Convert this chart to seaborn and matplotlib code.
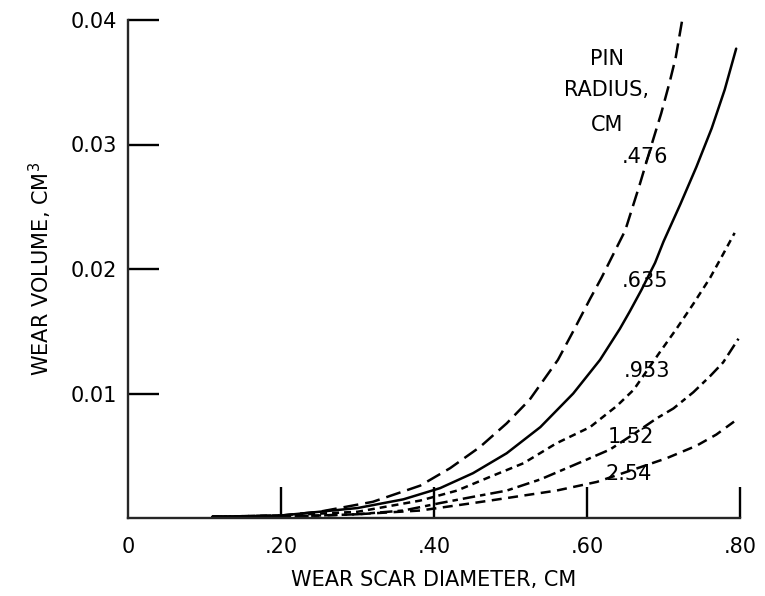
import matplotlib
matplotlib.use("Agg")
import matplotlib.pyplot as plt
import seaborn as sns
import pandas as pd

# Data
x_476 = [0.11, 0.20, 0.25, 0.32, 0.382, 0.421, 0.460, 0.495, 0.525, 0.562, 0.582, 0.604, 0.619, 0.650,
         0.669, 0.686, 0.697, 0.708, 0.716, 0.725]
y_476 = [0.0001, 0.0002, 0.0005, 0.0013, 0.0026, 0.0040, 0.0057, 0.0076, 0.0095, 0.0127, 0.0150, 0.0176, 0.0193, 0.0231,
         0.0268, 0.0303, 0.0325, 0.0350, 0.0370, 0.0402]

x_635 = [0.11, 0.20, 0.30, 0.36, 0.408, 0.451, 0.495, 0.539, 0.582, 0.617, 0.643, 0.656, 0.671,
         0.689, 0.700, 0.722, 0.743, 0.763, 0.780, 0.795]
y_635 = [0.0001, 0.0002, 0.0008, 0.0015, 0.0024, 0.0036, 0.0052, 0.0073, 0.0100, 0.0127, 0.0152, 0.0166, 0.0183,
         0.0205, 0.0222, 0.0252, 0.0282, 0.0313, 0.0344, 0.0377]

x_953 = [0.11, 0.20, 0.30, 0.382, 0.430, 0.473, 0.517, 0.560, 0.604, 0.639, 0.661, 0.695, 0.717,
         0.739, 0.761, 0.778, 0.793]
y_953 = [0.0001, 0.0002, 0.0005, 0.0014, 0.0022, 0.0033, 0.0044, 0.0060, 0.0073, 0.0090, 0.0103, 0.0133, 0.0152,
         0.0172, 0.0193, 0.0212, 0.0229]

x_152 = [0.11, 0.20, 0.30, 0.36, 0.408, 0.451, 0.495, 0.539, 0.600, 0.630, 0.660, 0.691, 0.713,
         0.739, 0.761, 0.778, 0.798]
y_152 = [0.0001, 0.0001, 0.0003, 0.0006, 0.0012, 0.0017, 0.0022, 0.0031, 0.0047, 0.0055, 0.0067, 0.0080, 0.0088,
         0.0101, 0.0114, 0.0125, 0.0144]

x_254 = [0.11, 0.20, 0.30, 0.382, 0.451, 0.495, 0.560, 0.613, 0.666, 0.704, 0.743, 0.769, 0.798]
y_254 = [0.0001, 0.0001, 0.0003, 0.0006, 0.0012, 0.0016, 0.0022, 0.0029, 0.0040, 0.0048, 0.0058, 0.0067, 0.0080]

radii = [".476", ".635", ".953", "1.52", "2.54"]
x_ticks = [0, 0.2, 0.4, 0.6, 0.8]
x_tick_labels = ["0", ".20", ".40", ".60", ".80"]
y_ticks = [0.01, 0.02, 0.03, 0.04]
y_tick_labels = ["0.01", "0.02", "0.03", "0.04"]

series = {
    ".476": (x_476, y_476),
    ".635": (x_635, y_635),
    ".953": (x_953, y_953),
    "1.52": (x_152, y_152),
    "2.54": (x_254, y_254),
}
frames = []
for r in radii:
    xs, ys = series[r]
    frames.append(pd.DataFrame({"d": xs, "v": ys, "radius": r}))
df = pd.concat(frames, ignore_index=True)

sns.set_style("ticks")
plt.rcParams["font.family"] = ["DejaVu Sans"]
plt.rcParams["text.color"] = "black"
plt.rcParams["axes.labelcolor"] = "black"

fig = plt.figure(figsize=(7.65, 5.96), dpi=100)
ax = fig.add_axes([128 / 765, 78 / 596, 612 / 765, 498 / 596])

lw = 1.8
dashes = {
    ".476": (6.0, 2.8),
    ".635": "",
    ".953": (2.8, 2.0),
    "1.52": (5.0, 2.0, 2.2, 2.0),
    "2.54": (4.0, 2.6),
}
sns.lineplot(data=df, x="d", y="v", hue="radius", style="radius",
             palette={r: "black" for r in radii}, dashes=dashes,
             hue_order=radii, style_order=radii, sort=False,
             linewidth=lw, legend=False, ax=ax, estimator=None)

ax.set_xlim(0, 0.8)
ax.set_ylim(0, 0.04)
ax.spines["top"].set_visible(False)
ax.spines["right"].set_visible(False)
ax.spines["left"].set_linewidth(1.7)
ax.spines["bottom"].set_linewidth(1.7)

ax.set_xticks(x_ticks)
ax.set_xticklabels(x_tick_labels)
ax.set_yticks(y_ticks)
ax.set_yticklabels(y_tick_labels)
ax.tick_params(direction="in", length=22, width=1.7, labelsize=15, colors="black")
ax.tick_params(axis="x", pad=14)
ax.tick_params(axis="y", pad=8)
ax.xaxis.get_major_ticks()[0].tick1line.set_visible(False)

ax.set_xlabel("WEAR SCAR DIAMETER, CM", fontsize=15, labelpad=9, color="black")
ax.set_ylabel("WEAR VOLUME, CM$^3$", fontsize=15, labelpad=12, color="black")

txt = dict(fontsize=15, color="black", ha="center", va="center")
ax.text(0.626, 0.0369, "PIN", **txt)
ax.text(0.626, 0.0344, "RADIUS,", **txt)
ax.text(0.626, 0.0316, "CM", **txt)
ax.text(0.676, 0.0290, ".476", **txt)
ax.text(0.676, 0.0190, ".635", **txt)
ax.text(0.678, 0.0118, ".953", **txt)
ax.text(0.658, 0.0065, "1.52", **txt)
ax.text(0.654, 0.0035, "2.54", **txt)

fig.savefig("out.png", dpi=100)
